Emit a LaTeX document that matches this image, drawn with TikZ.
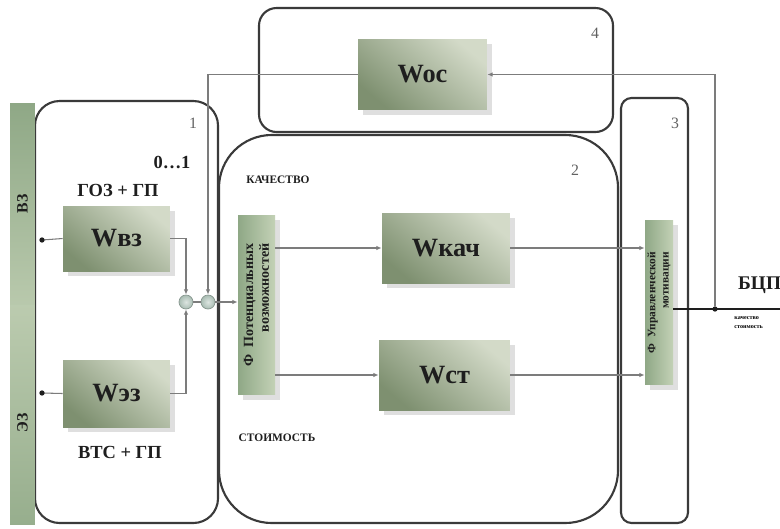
\documentclass[tikz,border=0pt]{standalone}
\usepackage{fontspec}
\setmainfont{Liberation Serif}
\usetikzlibrary{arrows.meta,positioning,calc,shadows}
\definecolor{frame}{HTML}{3A3A3A}
\definecolor{wire}{HTML}{7C7C7C}
\definecolor{boxdark}{HTML}{7E9070}
\definecolor{boxlight}{HTML}{D3DAC8}
\definecolor{bardark}{HTML}{8FA886}
\definecolor{barlight}{HTML}{C3D1B6}
\definecolor{junction}{HTML}{A9BDB3}
\definecolor{ink}{HTML}{1E1E1E}
\tikzset{
  zone/.style={draw=frame,line width=1.2pt},
  zonenum/.style={font=\fontsize{9}{10}\selectfont,text=frame!80},
  wblock/.style={top color=boxlight,bottom color=boxdark,shading angle=-40,
    inner sep=0pt,text=ink,font=\bfseries\fontsize{15}{16}\selectfont,
    drop shadow={shadow xshift=3pt,shadow yshift=-3pt,opacity=0.25}},
  fbar/.style={left color=bardark,right color=barlight,inner sep=0pt,
    drop shadow={shadow xshift=3pt,shadow yshift=-3pt,opacity=0.25}},
  sidebar/.style={inner sep=0pt,minimum width=0.5cm},
  bartext/.style={rotate=90,text=ink,font=\bfseries\fontsize{8}{9}\selectfont,
    align=right,inner sep=0pt},
  sumnode/.style={circle,draw=junction!80!black,inner color=junction!40!white,
    outer color=junction,minimum size=0.28cm,inner sep=0pt},
  tag/.style={font=\bfseries\fontsize{10.5}{12}\selectfont,text=ink},
  smalltag/.style={font=\bfseries\fontsize{6.5}{7}\selectfont,text=ink},
  wireline/.style={draw=wire,line width=0.6pt},
  wirearrow/.style={wireline,-{Latex[length=3pt,width=2.5pt]}},
  pin/.style={fill=ink,circle,inner sep=0pt,minimum size=3pt}
}

\begin{document}
\begin{tikzpicture}[x=0.02cm,y=-0.02cm]
  \useasboundingbox[fill=white] (0,0) rectangle (780,528);

  % zones
  \draw[zone,rounded corners=14pt] (35,101) rectangle (218,523);
  \draw[zone,rounded corners=10pt] (259,8) rectangle (613,132);
  \draw[zone,rounded corners=30pt] (219,135) rectangle (618,523);
  \draw[zone,rounded corners=6pt] (621,98) rectangle (688,523);
  \node[zonenum] (n1) at (193,123) {1};
  \node[zonenum] (n2) at (575,170) {2};
  \node[zonenum] (n3) at (675,123) {3};
  \node[zonenum] (n4) at (595,33) {4};

  % side bars
  \node[sidebar,top color=bardark,bottom color=barlight!80!bardark,minimum height=4.04cm]
    (vzbar) at (22.5,204) {};
  \node[sidebar,top color=barlight!85!bardark,bottom color=bardark!85!barlight,minimum height=4.4cm]
    (ezbar) at (22.5,415) {};
  \node[bartext,font=\bfseries\fontsize{9}{10}\selectfont] at (vzbar) {ВЗ};
  \node[bartext,font=\bfseries\fontsize{9}{10}\selectfont] at (22.5,423) {ЭЗ};

  % blocks
  \node[wblock,minimum width=2.14cm,minimum height=1.3cm] (wvz) at (116.5,238.5) {Wвз};
  \node[wblock,minimum width=2.14cm,minimum height=1.34cm] (wez) at (116.5,393.5) {Wэз};
  \node[wblock,minimum width=2.58cm,minimum height=1.42cm] (woc) at (422.5,74.5) {Woc};
  \node[wblock,minimum width=2.56cm,minimum height=1.4cm] (wkach) at (446,248) {Wкач};
  \node[wblock,minimum width=2.62cm,minimum height=1.4cm] (wst) at (444.5,375) {Wст};

  \node[fbar,minimum width=0.74cm,minimum height=3.6cm] (fpot) at (256.5,305) {};
  \node[bartext] at (fpot) {Ф\enspace Потенциальных\\возможностей};
  \node[fbar,minimum width=0.56cm,minimum height=3.3cm] (fupr) at (659,302.5) {};
  \node[bartext,font=\bfseries\fontsize{6.5}{7.5}\selectfont] at (fupr)
    {Ф\enspace Управленческой\\мотивации};

  \node[sumnode] (s1) at (186,302) {};
  \node[sumnode] (s2) at (208,302) {};

  % labels
  \node[tag] (goz) at (118,190) {ГОЗ + ГП};
  \node[tag] (vts) at (120,452) {ВТС + ГП};
  \node[tag] (range) at (172,162) {0…1};
  \node[smalltag] (kach) at (278,180) {КАЧЕСТВО};
  \node[smalltag] (stoim) at (277,438) {СТОИМОСТЬ};
  \node[tag,font=\bfseries\fontsize{11}{12}\selectfont,anchor=west] (bcp) at (732,285) {БЦП};
  \node[font=\bfseries\fontsize{3.5}{4}\selectfont,anchor=west,inner sep=0pt]
    (q) at (734,318) {качество};
  \node[font=\bfseries\fontsize{3.5}{4}\selectfont,anchor=west,inner sep=0pt]
    (c) at (734,327) {стоимость};

  % connectors
  \coordinate (vzpin) at (42,240);
  \coordinate (ezpin) at (42,393);
  \coordinate (outend) at (780,309);
  \node[pin] (fb) at (715,309) {};
  \draw[wireline] (wvz.west) -- (vzpin);
  \draw[wireline] (wez.west) -- (ezpin);
  \node[pin] at (vzpin) {};
  \node[pin] at (ezpin) {};
  \draw[wirearrow] (wvz.east) -| (s1.north);
  \draw[wirearrow] (wez.east) -| (s1.south);
  \draw[wireline] (s1) -- (s2);
  \draw[wirearrow] (s2.east) -- (fpot.west |- s2);
  \draw[wirearrow] (fpot.east |- wkach) -- (wkach.west);
  \draw[wirearrow] (fpot.east |- wst) -- (wst.west);
  \draw[wirearrow] (wkach.east) -- (fupr.west |- wkach);
  \draw[wirearrow] (wst.east) -- (fupr.west |- wst);
  \draw[wireline,draw=ink] (fupr.east |- fb) -- (outend);
  \draw[wirearrow] (fb) |- (woc.east);
  \draw[wirearrow] (woc.west) -| (s2.north);
\end{tikzpicture}
\end{document}
